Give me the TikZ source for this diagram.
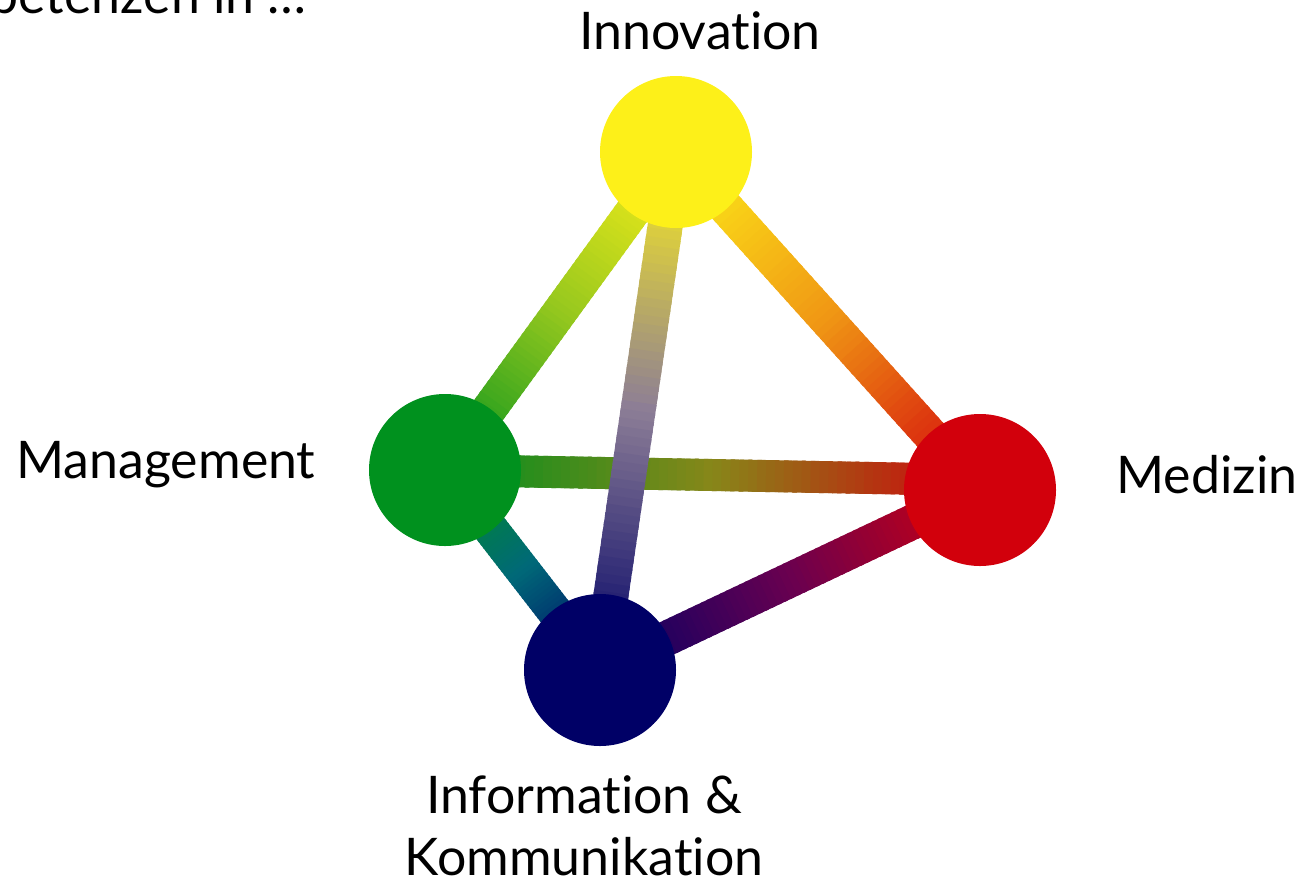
\documentclass[tikz,border=0pt]{standalone}
\usepackage{fontspec}
\setmainfont{Lato}[Ligatures=NoCommon]
\usetikzlibrary{calc}
\definecolor{innoyellow}{RGB}{253,240,25}
\definecolor{mgmtgreen}{RGB}{0,145,30}
\definecolor{medred}{RGB}{210,0,12}
\definecolor{iknavy}{RGB}{0,0,102}
\definecolor{olivemid}{RGB}{135,135,25}
\definecolor{greymid}{RGB}{140,125,150}
\definecolor{limemid}{RGB}{150,200,30}
\definecolor{orangemid}{RGB}{240,150,20}
\definecolor{tealmid}{RGB}{0,105,120}
\definecolor{purplemid}{RGB}{105,0,80}

\newcommand{\gradlink}[6][link]{%
  \foreach \k in {0,...,59}{%
    \ifnum\k<30
      \pgfmathtruncatemacro\mixpct{100-(\k+0.5)*200/60}%
      \draw[#1, draw=#4!\mixpct!#5] ($(#2)!\k/60!(#3)$) -- ($(#2)!\k/60+0.025!(#3)$);
    \else
      \pgfmathtruncatemacro\mixpct{200-(\k+0.5)*200/60}%
      \draw[#1, draw=#5!\mixpct!#6] ($(#2)!\k/60!(#3)$) -- ($(#2)!\k/60+0.025!(#3)$);
    \fi
  }%
}

\begin{document}
\begin{tikzpicture}[x=0.2mm, y=-0.2mm,
    ball/.style={circle, minimum size=30.4mm, inner sep=0pt},
    link/.style={line width=7mm},
    flatlink/.style={line width=6.4mm},
    lbl/.style={font=\fontsize{29.5}{35}\selectfont, inner sep=0pt, anchor=base}]
  \useasboundingbox (0,0) rectangle (1302,884);

  \node[ball] (inno) at (676,152) {};
  \node[ball] (mgmt) at (445,470) {};
  \node[ball] (med) at (980,490) {};
  \node[ball] (ik) at (600,670) {};
  \coordinate (medleft) at ([yshift=2mm]med.center);

  \gradlink[flatlink]{mgmt}{medleft}{mgmtgreen}{olivemid}{medred}
  \gradlink{inno}{mgmt}{innoyellow}{limemid}{mgmtgreen}
  \gradlink{inno}{med}{innoyellow}{orangemid}{medred}
  \gradlink{mgmt}{ik}{mgmtgreen}{tealmid}{iknavy}
  \gradlink{ik}{med}{iknavy}{purplemid}{medred}
  \gradlink{inno}{ik}{innoyellow}{greymid}{iknavy}

  \fill[innoyellow] (inno) circle (15.2mm);
  \fill[mgmtgreen] (mgmt) circle (15.2mm);
  \fill[medred] (med) circle (15.2mm);
  \fill[iknavy] (ik) circle (15.2mm);

  \node[lbl, anchor=base east] (title) at (307,13) {Kompetenzen in \dots};
  \node[lbl] (innolabel) at (700,49) {Innovation};
  \node[lbl] (mgmtlabel) at (166,478) {Management};
  \node[lbl] (medlabel) at (1207,493) {Medizin};
  \node[lbl, align=center] (iklabel) at (584,875) {Information \&\\Kommunikation};
\end{tikzpicture}
\end{document}
